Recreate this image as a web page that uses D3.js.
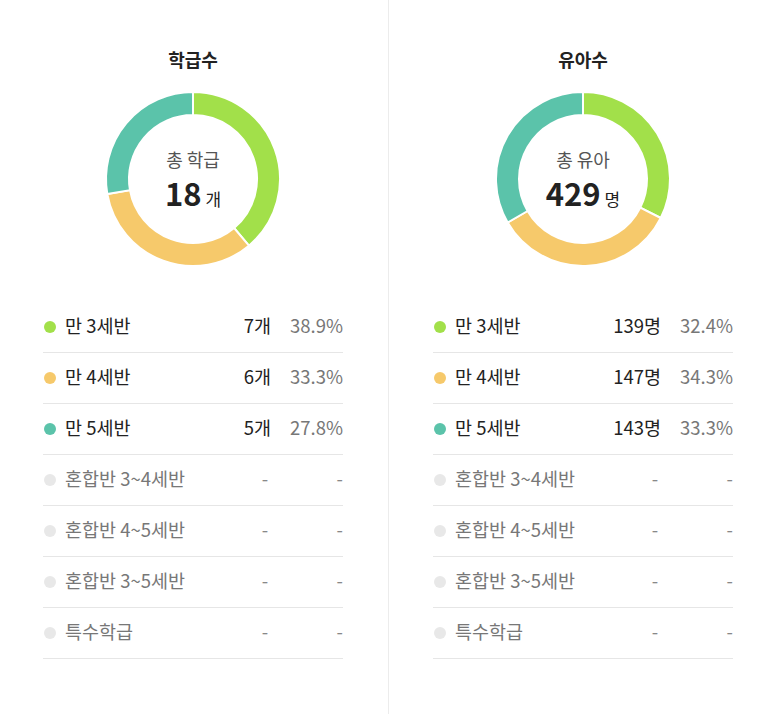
<!DOCTYPE html>
<html><head><meta charset="utf-8">
<script src="https://cdn.jsdelivr.net/npm/d3@7"></script>
<style>
body{margin:0;background:#fff;font-family:"Noto Sans CJK KR","Noto Sans",sans-serif;}
</style></head><body>
<svg id="chart" width="773" height="714"></svg>
<script>
const categories = ['만 3세반', '만 4세반', '만 5세반', '혼합반 3~4세반', '혼합반 4~5세반', '혼합반 3~5세반', '특수학급'];
const colors = ['#a2e04a', '#f6c96b', '#5bc3aa', '#e8e8e8', '#e8e8e8', '#e8e8e8', '#e8e8e8'];
const classCounts = [7, 6, 5, null, null, null, null];
const classPct = ['38.9%', '33.3%', '27.8%', '-', '-', '-', '-'];
const childCounts = [139, 147, 143, null, null, null, null];
const childPct = ['32.4%', '34.3%', '33.3%', '-', '-', '-', '-'];

const panels = [
  {title: '학급수', center: '총 학급', total: 18, unit: '개', values: classCounts, pct: classPct, cx: 193, x0: 43},
  {title: '유아수', center: '총 유아', total: 429, unit: '명', values: childCounts, pct: childPct, cx: 583, x0: 433}
];

const svg = d3.select('#chart');
svg.append('line').attr('x1', 388.5).attr('x2', 388.5).attr('y1', 0).attr('y2', 714)
  .attr('stroke', '#ececec');

const pie = d3.pie().sort(null).value(d => d || 0);
const arc = d3.arc().innerRadius(64).outerRadius(87);
const rowY = d3.scaleLinear().domain([0, 1]).range([326, 377]);

panels.forEach(p => {
  const g = svg.append('g');
  g.append('text').attr('x', p.cx).attr('y', 67).attr('text-anchor', 'middle')
    .attr('font-size', 18).attr('font-weight', 700).attr('fill', '#222').text(p.title);

  const dg = g.append('g').attr('transform', `translate(${p.cx},179)`);
  dg.selectAll('path').data(pie(p.values.slice(0, 3))).join('path')
    .attr('d', arc).attr('fill', (d, i) => colors[i])
    .attr('stroke', '#fff').attr('stroke-width', 2);
  dg.append('text').attr('y', -12).attr('text-anchor', 'middle')
    .attr('font-size', 18).attr('fill', '#555').text(p.center);
  const t = dg.append('text').attr('y', 27).attr('text-anchor', 'middle').attr('fill', '#222');
  t.append('tspan').attr('font-size', 31).attr('font-weight', 700).text(p.total);
  t.append('tspan').attr('font-size', 17).attr('dx', 4).text(p.unit);

  const x1 = p.x0 + 300;
  categories.forEach((c, i) => {
    const y = rowY(i);
    const active = p.values[i] != null;
    g.append('circle').attr('cx', p.x0 + 7).attr('cy', y + 1).attr('r', 6).attr('fill', colors[i]);
    g.append('text').attr('x', p.x0 + 22).attr('y', y + 7).attr('font-size', 18.5)
      .attr('fill', active ? '#222' : '#777').text(c);
    g.append('text').attr('x', active ? p.x0 + 228 : p.x0 + 222).attr('y', y + 7).attr('font-size', 18.5)
      .attr('text-anchor', active ? 'end' : 'middle').attr('fill', active ? '#222' : '#888')
      .text(active ? p.values[i] + p.unit : '-');
    g.append('text').attr('x', x1).attr('y', y + 7).attr('font-size', 18.5).attr('text-anchor', 'end')
      .attr('fill', active ? '#777' : '#888').text(p.pct[i]);
    g.append('line').attr('x1', p.x0).attr('x2', x1).attr('y1', y + 26.5).attr('y2', y + 26.5)
      .attr('stroke', '#e6e6e6');
  });
});
</script></body></html>
